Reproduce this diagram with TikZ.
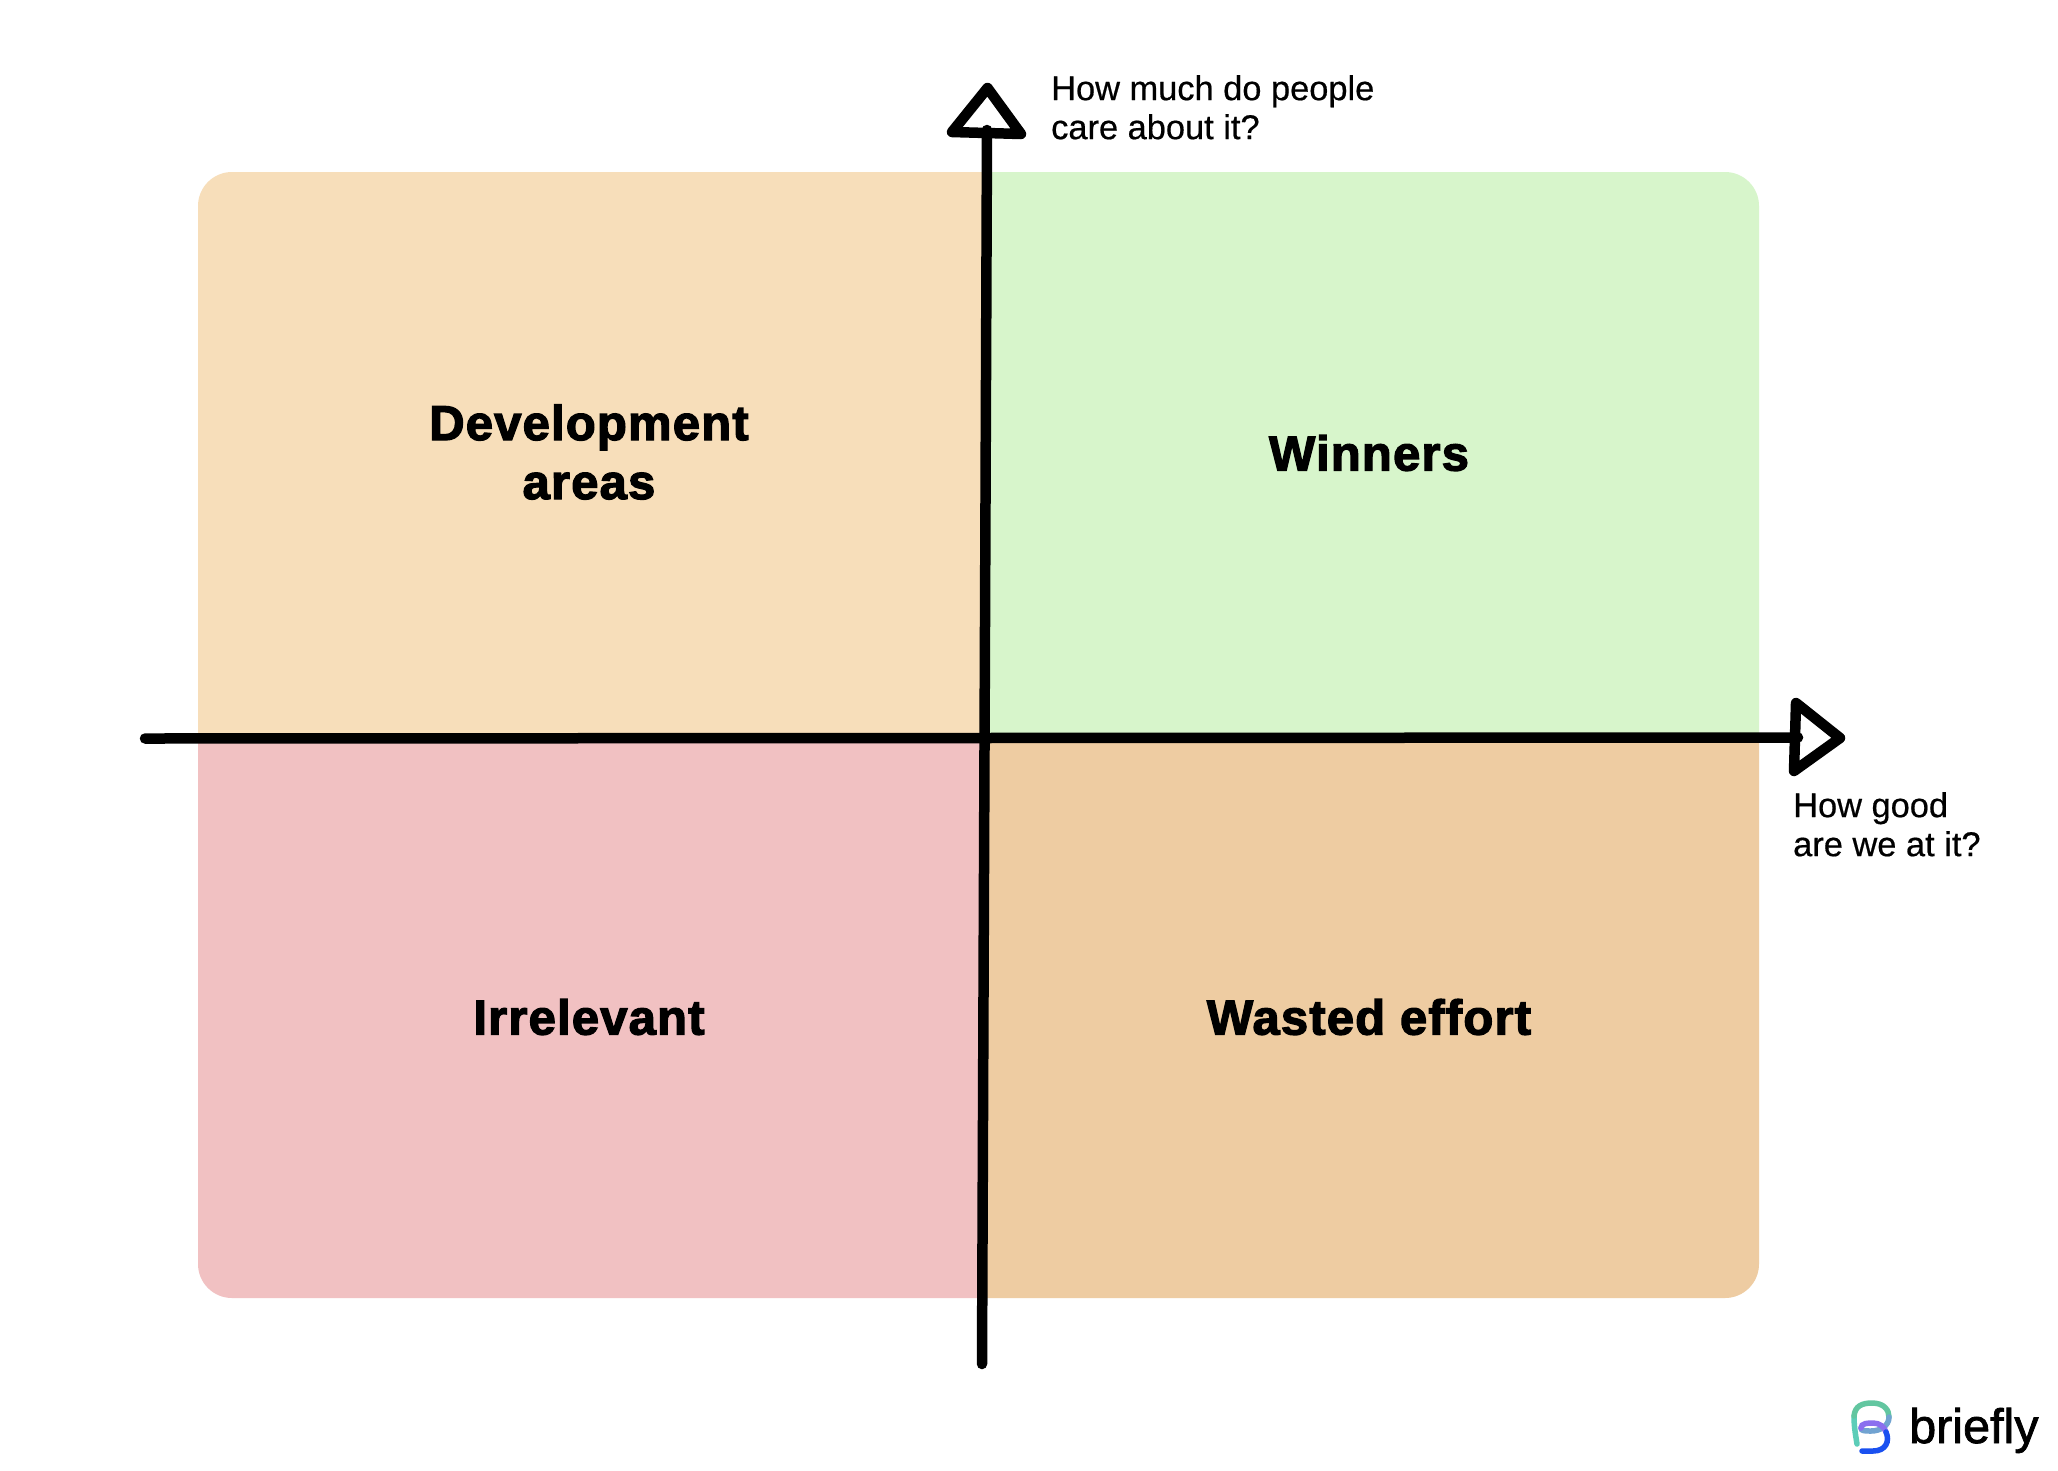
\documentclass[tikz,border=0pt]{standalone}
\usepackage{fontspec}
\setmainfont{Liberation Sans}
\newfontfamily\headfont[FakeBold=2.6,LetterSpace=2.4]{Liberation Sans Bold}
\newfontfamily\bodyfont[FakeBold=0.5]{Liberation Sans}
\newfontfamily\logofont[FakeBold=1.6]{Liberation Sans}
\definecolor{peach}{HTML}{F7DEBA}
\definecolor{mint}{HTML}{D7F5CB}
\definecolor{rose}{HTML}{F1C1C2}
\definecolor{tan}{HTML}{EECCA2}
\definecolor{logoteal}{HTML}{5CCDB8}
\definecolor{logogreen}{HTML}{62C6A0}
\definecolor{logopurple}{HTML}{8B6FEF}
\definecolor{logoblue}{HTML}{1A50F0}
\tikzset{
  x=1pt,y=-1pt,
  axisline/.style={line width=10.5pt,line cap=round,line join=round,black},
  headline/.style={axisline,fill=white},
  quadlabel/.style={align=center,font=\headfont\fontsize{49}{59}\selectfont,text=black,inner sep=0pt},
  axislabel/.style={align=left,font=\bodyfont\fontsize{34.4}{39}\selectfont,text=black,inner sep=0pt,anchor=north west},
  logostroke/.style={line width=5.5pt,line cap=round},
}
\begin{document}
\begin{tikzpicture}
\useasboundingbox (0,0) rectangle (2058,1470);
\fill[white] (0,0) rectangle (2058,1470);
% quadrants
\fill[peach] (984,172) [rounded corners=34pt] -- (198,172) [sharp corners] -- (198,737) -- (984,737) -- cycle;
\fill[mint] (984,172) [rounded corners=34pt] -- (1759,172) [sharp corners] -- (1759,737) -- (984,737) -- cycle;
\fill[rose] (984,1298) [rounded corners=34pt] -- (198,1298) [sharp corners] -- (198,737) -- (984,737) -- cycle;
\fill[tan] (984,1298) [rounded corners=34pt] -- (1759,1298) [sharp corners] -- (1759,737) -- (984,737) -- cycle;
% axes
\coordinate (xstart) at (145,738.5);
\coordinate (xend) at (1798,737.5);
\coordinate (ystart) at (982,1364);
\coordinate (yend) at (987,130);
\coordinate (yapex) at (987.5,88);
\coordinate (yleft) at (952,132);
\coordinate (yright) at (1021,134);
\coordinate (xapex) at (1840,738);
\coordinate (xtop) at (1796,703);
\coordinate (xbot) at (1794,771);
\draw[headline] (yright) -- (yapex) -- (yleft) -- cycle;
\draw[headline] (xtop) -- (xapex) -- (xbot) -- cycle;
\draw[axisline] (xstart) -- (xend);
\draw[axisline] (ystart) -- (yend);
% labels
\node[quadlabel] (dev) at (589,452) {Development\\areas};
\node[quadlabel] (win) at (1369,453) {Winners};
\node[quadlabel] (irr) at (589,1017) {Irrelevant};
\node[quadlabel] (was) at (1369,1017) {Wasted effort};
\node[axislabel] (ylab) at (1051,75) {How much do people\\care about it?};
\node[axislabel] (xlab) at (1793,792) {How good\\are we at it?};
% logo
\draw[logostroke,logoteal] (1857,1444) .. controls (1855,1432) and (1854,1425) .. (1854,1416);
\draw[logostroke,logogreen] (1854,1416) .. controls (1855,1406) and (1862,1403) .. (1872,1403) .. controls (1884,1403) and (1889,1410) .. (1889,1417);
\draw[logostroke,logopurple!45!logoteal] (1889,1417) .. controls (1889,1426) and (1880,1431) .. (1871,1431) .. controls (1865,1431) and (1861,1431) .. (1861,1428);
\draw[logostroke,logopurple] (1861,1428) .. controls (1861,1423) and (1868,1423) .. (1873,1423) .. controls (1880,1423) and (1884,1427) .. (1886,1432);
\draw[logostroke,logoblue] (1886,1432) .. controls (1890,1441) and (1886,1451) .. (1873,1451) -- (1862,1451);
\node[inner sep=0pt,anchor=base west,font=\logofont\fontsize{48.5}{48.5}\selectfont] (logotext) at (1909,1443) {briefly};
\end{tikzpicture}
\end{document}
